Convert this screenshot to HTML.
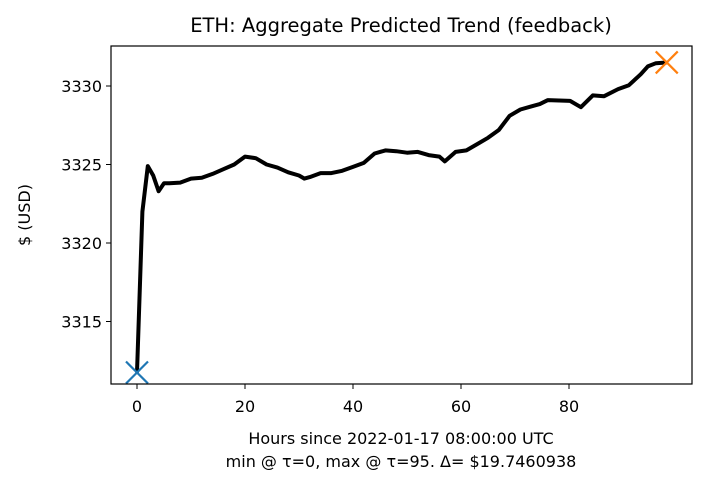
<!DOCTYPE html>
<html><head><meta charset="utf-8"><style>
body{margin:0;background:#fff;}
svg text{font-family:"DejaVu Sans","Liberation Sans",sans-serif;fill:#000;}
</style></head><body>
<svg id="c" width="707" height="487" xmlns="http://www.w3.org/2000/svg"></svg>
<script>
const hours=[0,1,2,3,4,5,6,8,10,12,14,16,18,20,22,24,26,28,30,31,32,34,36,38,40,42,44,46,48,50,52,54,56,57,59,61,63,65,67,69,71,73,74.6,76.1,80.2,82.2,84.4,86.5,89.1,91.1,93.3,94.6,96.1,98.1];
const values=[3311.75,3322.0,3324.9,3324.3,3323.3,3323.8,3323.8,3323.85,3324.1,3324.15,3324.4,3324.7,3325.0,3325.5,3325.4,3325.0,3324.8,3324.5,3324.3,3324.1,3324.2,3324.45,3324.45,3324.6,3324.85,3325.1,3325.7,3325.9,3325.85,3325.75,3325.8,3325.6,3325.5,3325.2,3325.8,3325.9,3326.3,3326.7,3327.2,3328.1,3328.5,3328.7,3328.85,3329.1,3329.05,3328.65,3329.4,3329.35,3329.8,3330.05,3330.75,3331.25,3331.45,3331.5];
const xTicks=[0,20,40,60,80];
const yTicks=[3315,3320,3325,3330];
const svg=document.getElementById('c');
const NS='http://www.w3.org/2000/svg';
const L=111,R=692,T=46,B=384;
const x=h=>137+5.4*h;
const y=v=>86+(3330-v)*15.7;
function mk(t,a,p){const e=document.createElementNS(NS,t);for(const k in a)e.setAttribute(k,a[k]);(p||svg).appendChild(e);return e;}
const title=mk('text',{x:401,y:32,'text-anchor':'middle','font-size':'19.5'});title.textContent='ETH: Aggregate Predicted Trend (feedback)';


xTicks.forEach(t=>{
 const g=mk('g',{});
 
 
 mk('line',{x1:x(t),x2:x(t),y1:B,y2:B+5,stroke:'#000','stroke-width':1},g);
 const tx=mk('text',{x:x(t),y:B+28,'text-anchor':'middle','font-size':'16'},g);tx.textContent=t;
});
yTicks.forEach(t=>{
 const g=mk('g',{});
 
 
 mk('line',{x1:L-5,x2:L,y1:y(t),y2:y(t),stroke:'#000','stroke-width':1},g);
 const tx=mk('text',{x:L-9,y:y(t)+6,'text-anchor':'end','font-size':'16'},g);tx.textContent=t;
});
const yl=mk('text',{x:0,y:0,'text-anchor':'middle','font-size':'16',transform:'translate(30,215) rotate(-90)'});yl.textContent='$ (USD)';


const x1=mk('text',{x:401,y:444,'text-anchor':'middle','font-size':'16'});x1.textContent='Hours since 2022-01-17 08:00:00 UTC';


const x2=mk('text',{x:401,y:467,'text-anchor':'middle','font-size':'16'});x2.textContent='min @ τ=0, max @ τ=95. Δ= $19.7460938';


const line=mk('path',{d:hours.map((h,i)=>(i?'L':'M')+x(h).toFixed(1)+','+y(values[i]).toFixed(1)).join(''),fill:'none',stroke:'#000','stroke-width':4,'stroke-linejoin':'round'});


function cross(cx,cy,col,name){const g=mk('g',{stroke:col,'stroke-width':2.2});
 
 
 mk('line',{x1:cx-11,y1:cy-11,x2:cx+11,y2:cy+11},g);mk('line',{x1:cx-11,y1:cy+11,x2:cx+11,y2:cy-11},g);}
const n=values.length-1;
cross(x(hours[0]),y(values[0]),'#1f77b4','min-marker');
cross(x(hours[n]),y(values[n]),'#ff7f0e','max-marker');
const fr=mk('rect',{x:L,y:T,width:R-L,height:B-T,fill:'none',stroke:'#000','stroke-width':1.2});


</script>
</body></html>
